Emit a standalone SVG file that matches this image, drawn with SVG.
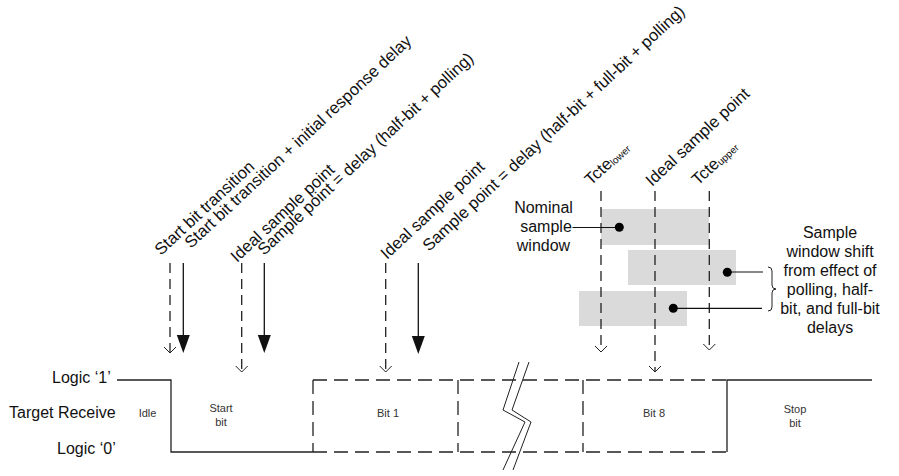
<svg xmlns="http://www.w3.org/2000/svg" width="899" height="476" viewBox="0 0 899 476">
<style>
text{font-family:"Liberation Sans",Arial,sans-serif;fill:#111}
.big{font-size:16px}
.rot{font-size:16.6px}
.sm{font-size:11px;fill:#333}
.mid{text-anchor:middle}
.sig{fill:none;stroke:#222;stroke-width:1.3}
.box{fill:none;stroke:#222;stroke-width:1.3;stroke-dasharray:14 7}
.dl{fill:none;stroke:#222;stroke-width:1.3;stroke-dasharray:10 6}
.sl{fill:none;stroke:#111;stroke-width:1.3}
.vh{fill:none;stroke:#222;stroke-width:1}
.win{fill:#dadada}
.ld{fill:none;stroke:#111;stroke-width:1.2}
</style>
<rect width="899" height="476" fill="#fff"/>

<g id="labels-top">
<text class="rot" transform="translate(161,256) rotate(-43)">Start bit transition</text>
<text class="rot" transform="translate(191,249) rotate(-43)">Start bit transition + initial response delay</text>
<text class="rot" transform="translate(237,263) rotate(-43)">Ideal sample point</text>
<text class="rot" transform="translate(264,256) rotate(-43)">Sample point = delay (half-bit + polling)</text>
<text class="rot" transform="translate(387,260) rotate(-43)">Ideal sample point</text>
<text class="rot" transform="translate(429,252) rotate(-43)">Sample point = delay (half-bit + full-bit + polling)</text>
<text class="rot" transform="translate(591,186) rotate(-43)">Tcte<tspan font-size="10" dy="1">lower</tspan></text>
<text class="rot" transform="translate(652,187) rotate(-43)">Ideal sample point</text>
<text class="rot" transform="translate(698,186) rotate(-43)">Tcte<tspan font-size="10" dy="1">upper</tspan></text>
</g>

<g id="windows">
<rect class="win" x="601" y="209" width="108" height="36"/>
<rect class="win" x="628" y="250" width="108" height="35"/>
<rect class="win" x="579" y="291" width="108" height="35"/>
</g>

<g id="connectors">
<line class="dl" x1="170" y1="263" x2="170" y2="353"/>
<polyline class="vh" points="164,347 170,353 176,347"/>
<line class="sl" x1="183.3" y1="263" x2="183.3" y2="340"/>
<polygon points="176.8,335 189.8,335 183.3,353" fill="#111"/>
<line class="dl" x1="241.7" y1="263" x2="241.7" y2="372"/>
<polyline class="vh" points="235.7,366 241.7,372 247.7,366"/>
<line class="sl" x1="264.3" y1="263" x2="264.3" y2="340"/>
<polygon points="257.8,335 270.8,335 264.3,353" fill="#111"/>
<line class="dl" x1="385.7" y1="263" x2="385.7" y2="372"/>
<polyline class="vh" points="379.7,366 385.7,372 391.7,366"/>
<line class="sl" x1="418.3" y1="263" x2="418.3" y2="341"/>
<polygon points="411.8,336 424.8,336 418.3,354" fill="#111"/>
<line class="dl" x1="601" y1="191" x2="601" y2="352"/>
<polyline class="vh" points="595,346 601,352 607,346"/>
<line class="dl" x1="655" y1="191" x2="655" y2="372"/>
<polyline class="vh" points="649,366 655,372 661,366"/>
<line class="dl" x1="709.3" y1="191" x2="709.3" y2="350"/>
<polyline class="vh" points="703.3,344 709.3,350 715.3,344"/>
<line class="ld" x1="572.5" y1="227.5" x2="619" y2="227.5"/>
<circle cx="619.3" cy="227.3" r="4.5" fill="#000"/>
<line class="ld" x1="727" y1="272" x2="763" y2="272"/>
<circle cx="727.3" cy="272.3" r="4.5" fill="#000"/>
<line class="ld" x1="673" y1="308.3" x2="762" y2="308.3"/>
<circle cx="673.3" cy="308.3" r="4.5" fill="#000"/>
<path class="vh" d="M768,267 q4,0 4,4 v14 q0,4 4,4 q-4,0 -4,4 v14 q0,4 -4,4"/>
</g>

<g id="signal">
<path class="sig" d="M117,380 H171 V452 H313"/>
<path class="box" d="M313,380 H727 M313,452 H727 M313,380 V452 M458,380 V452 M583,380 V452"/>
<path class="sig" d="M727,452 V380 H872"/>
<path class="vh" d="M519,362 L503,410 L525,422 L503,470 M529,362 L512,410 L531,422 L513,470"/>
</g>

<g id="left-labels">
<text class="big" x="52" y="383">Logic ‘1’</text>
<text class="big" x="9" y="418">Target Receive</text>
<text class="big" x="57" y="454">Logic ‘0’</text>
</g>

<g id="bit-labels">
<text class="sm mid" x="147.5" y="417">Idle</text>
<text class="sm mid" x="221" y="412">Start</text>
<text class="sm mid" x="221" y="426">bit</text>
<text class="sm mid" x="388" y="417">Bit 1</text>
<text class="sm mid" x="654" y="417">Bit 8</text>
<text class="sm mid" x="795" y="413">Stop</text>
<text class="sm mid" x="795" y="427">bit</text>
</g>

<g id="nominal-label">
<text class="big mid" x="543.5" y="213">Nominal</text>
<text class="big mid" x="546" y="232">sample</text>
<text class="big mid" x="543.5" y="251">window</text>
</g>

<g id="shift-label">
<text class="big mid" x="830" y="238">Sample</text>
<text class="big mid" x="830" y="257">window shift</text>
<text class="big mid" x="830" y="276">from effect of</text>
<text class="big mid" x="830" y="295">polling, half-</text>
<text class="big mid" x="830" y="314">bit, and full-bit</text>
<text class="big mid" x="830" y="333">delays</text>
</g>
</svg>
